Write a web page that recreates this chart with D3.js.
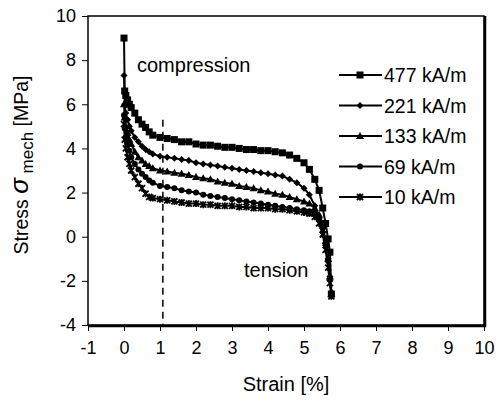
<!DOCTYPE html>
<html>
<head>
<meta charset="utf-8">
<script src="https://cdn.jsdelivr.net/npm/d3@7"></script>
<style>
  body { margin: 0; background: #fff; }
  text { font-family: "Liberation Sans", Arial, sans-serif; fill: #000; }
</style>
</head>
<body>
<div id="chart"></div>
<script>
"use strict";

// strain [%] sample points shared by all curves
var strain = [0, 0.02, 0.05, 0.1, 0.15, 0.2, 0.3, 0.4, 0.5, 0.6, 0.7, 0.8, 1.0, 1.2, 1.4, 1.6, 1.8, 2.0,
	2.2, 2.4, 2.6, 2.8, 3.0, 3.2, 3.4, 3.6, 3.8, 4.0, 4.2, 4.4, 4.6, 4.8, 5.0, 5.15, 5.3, 5.42, 5.52,
	5.6, 5.67, 5.72, 5.76];

var stress477 = [9.0, 6.6, 6.4, 6.2, 6.0, 5.85, 5.6, 5.3, 5.1, 4.95, 4.75, 4.6, 4.5, 4.45, 4.4, 4.3, 4.3, 4.2,
	4.15, 4.15, 4.1, 4.05, 4.05, 4.0, 3.95, 3.95, 3.9, 3.9, 3.85, 3.8, 3.7, 3.55, 3.35, 3.05, 2.6, 2.1, 1.3,
	0.6, -0.1, -0.7, -2.6];
var stress221 = [7.3, 6.0, 5.6, 5.3, 5.0, 4.8, 4.5, 4.3, 4.1, 3.95, 3.85, 3.75, 3.65, 3.6, 3.55, 3.5, 3.45, 3.35,
	3.3, 3.25, 3.2, 3.15, 3.1, 3.05, 3.0, 2.95, 2.9, 2.85, 2.8, 2.75, 2.6, 2.45, 2.2, 1.9, 1.4, 0.8, 0.2,
	-0.4, -1.0, -1.8, -2.5];
var stress133 = [6.0, 5.4, 5.0, 4.7, 4.4, 4.2, 3.85, 3.6, 3.45, 3.3, 3.2, 3.1, 3.0, 2.95, 2.9, 2.85, 2.8, 2.7,
	2.65, 2.6, 2.5, 2.45, 2.4, 2.3, 2.25, 2.2, 2.1, 2.05, 1.95, 1.9, 1.8, 1.7, 1.6, 1.5, 1.3, 1.0, 0.5,
	-0.2, -1.0, -1.8, -2.6];
var stress69 = [5.5, 4.9, 4.5, 4.2, 3.9, 3.6, 3.3, 3.05, 2.85, 2.7, 2.55, 2.45, 2.3, 2.25, 2.2, 2.1, 2.05, 2.0,
	1.9, 1.85, 1.8, 1.75, 1.7, 1.65, 1.6, 1.55, 1.5, 1.45, 1.4, 1.35, 1.3, 1.25, 1.2, 1.15, 1.05, 0.85, 0.4,
	-0.3, -1.1, -1.9, -2.6];
var stress10 = [5.1, 4.4, 4.0, 3.6, 3.3, 3.0, 2.7, 2.4, 2.2, 1.95, 1.8, 1.75, 1.7, 1.65, 1.6, 1.55, 1.5, 1.5,
	1.45, 1.45, 1.4, 1.4, 1.4, 1.35, 1.35, 1.3, 1.3, 1.3, 1.25, 1.25, 1.2, 1.15, 1.1, 1.05, 0.9, 0.6, 0.1,
	-0.6, -1.4, -2.1, -2.7];

var seriesNames = ["477 kA/m", "221 kA/m", "133 kA/m", "69 kA/m", "10 kA/m"];
var seriesMarkers = ["square", "diamond", "triangle", "circle", "cross"];
var seriesStress = [stress477, stress221, stress133, stress69, stress10];

var xTicks = [-1, 0, 1, 2, 3, 4, 5, 6, 7, 8, 9, 10];
var yTicks = [-4, -2, 0, 2, 4, 6, 8, 10];
var dashStrain = 1.08;
var dashTop = 5.3;

var svg = d3.select("#chart").append("svg").attr("width", 502).attr("height", 405);

var margin = {top: 16, right: 18, bottom: 80, left: 88},
	width = 502 - margin.left - margin.right,
	height = 405 - margin.top - margin.bottom,
	g = svg.append("g").attr("transform", "translate(" + margin.left + "," + margin.top + ")");

var x = d3.scaleLinear().domain([-1, 10]).range([0, width]);
var y = d3.scaleLinear().domain([-4, 10]).range([height, 0]);

// frame, with the heavier right/bottom edge like the original
g.append("rect").attr("width", width).attr("height", height)
	.attr("fill", "none").attr("stroke", "#000").attr("stroke-width", 1.5);
g.append("path")
	.attr("d", "M" + (width + 1) + ",0V" + (height + 1) + "H0")
	.attr("fill", "none").attr("stroke", "#000").attr("stroke-width", 2.5);

// plain hyphen for negatives, as in the original
function tickText(d) { return String(d); }

var xAxis = g.append("g")
	.attr("transform", "translate(0," + height + ")")
	.call(d3.axisBottom(x).tickValues(xTicks).tickSize(6).tickPadding(10).tickFormat(tickText));
var yAxis = g.append("g")
	.call(d3.axisLeft(y).tickValues(yTicks).tickSize(6).tickPadding(6).tickFormat(tickText));
[xAxis, yAxis].forEach(function(a) {
	a.select(".domain").remove();
	a.selectAll("line").attr("stroke", "#000").attr("stroke-width", 1);
	a.selectAll("text").style("font-size", "18px").style("font-family", "Liberation Sans, Arial, sans-serif");
});

// dashed marker line
g.append("line")
	.attr("x1", x(dashStrain)).attr("x2", x(dashStrain))
	.attr("y1", y(dashTop)).attr("y2", y(-4))
	.attr("stroke", "#000").attr("stroke-width", 1.5).attr("stroke-dasharray", "7,5");

function drawMarker(sel, type) {
	if (type == "square") {
		sel.append("rect").attr("x", -3.5).attr("y", -3.5).attr("width", 7).attr("height", 7);
	} else if (type == "diamond") {
		sel.append("path").attr("d", "M0,-3.5L3.5,0L0,3.5L-3.5,0Z");
	} else if (type == "triangle") {
		sel.append("path").attr("d", "M0,-4L4,3L-4,3Z");
	} else if (type == "circle") {
		sel.append("circle").attr("r", 3);
	} else {
		sel.append("path").attr("d", "M-3,-3L3,3M-3,3L3,-3M0,-3.5V3.5")
			.attr("stroke", "#000").attr("stroke-width", 1.8);
	}
}

var line = d3.line()
	.x(function(d) { return x(d.strain); })
	.y(function(d) { return y(d.stress); });

var data = seriesNames.map(function(name, i) {
	return {
		id: name,
		marker: seriesMarkers[i],
		values: strain.map(function(s, j) { return {strain: s, stress: seriesStress[i][j]}; })
	};
});

var curve = g.selectAll(".curve")
	.data(data.slice().reverse())
	.enter().append("g")
	.attr("class", "curve");

curve.append("path")
	.attr("d", function(d) { return line(d.values); })
	.attr("fill", "none").attr("stroke", "#000").attr("stroke-width", 2);

curve.each(function(d) {
	var c = d3.select(this);
	d.values.forEach(function(p) {
		var m = c.append("g").attr("transform", "translate(" + x(p.strain) + "," + y(p.stress) + ")");
		drawMarker(m, d.marker);
	});
});

// legend
var legend = svg.selectAll(".legend")
	.data(data)
	.enter().append("g")
	.attr("class", "legend")
	.attr("transform", function(d, i) { return "translate(339," + (75 + i * 30.5) + ")"; });
legend.append("line").attr("x1", 0).attr("x2", 43).attr("stroke", "#000").attr("stroke-width", 2);
legend.each(function(d) {
	var m = d3.select(this).append("g").attr("transform", "translate(21,0)");
	drawMarker(m, d.marker);
});
legend.append("text").attr("x", 45).attr("dy", "0.36em")
	.style("font-size", "19.5px").text(function(d) { return d.id; });

// annotations
svg.append("text").attr("x", 137).attr("y", 72).style("font-size", "20px").text("compression");
svg.append("text").attr("x", 244).attr("y", 277).style("font-size", "20px").text("tension");

// axis titles
svg.append("text").attr("x", margin.left + x(4.5)).attr("y", 391)
	.attr("text-anchor", "middle").style("font-size", "20px").text("Strain [%]");

var yt = svg.append("text")
	.attr("transform", "translate(28,165) rotate(-90)")
	.attr("text-anchor", "middle").style("font-size", "19.5px");
yt.append("tspan").text("Stress ");
yt.append("tspan").style("font-size", "26px").style("font-style", "italic").text("σ");
yt.append("tspan").attr("dy", 5).style("font-size", "17px").text(" mech");
yt.append("tspan").attr("dy", -5).text(" [MPa]");
</script>
</body>
</html>
